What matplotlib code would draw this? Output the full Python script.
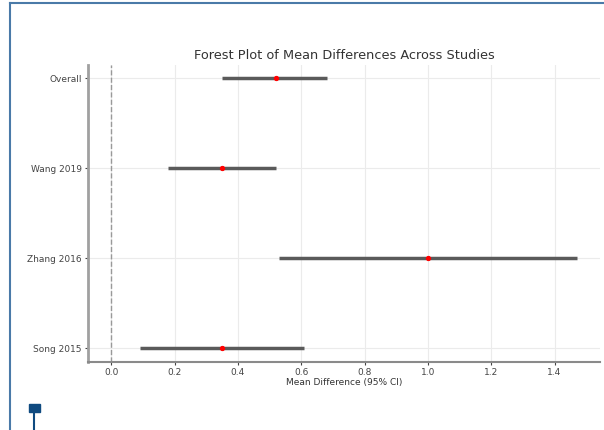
import numpy as np
import matplotlib
matplotlib.use("Agg")
from matplotlib import pyplot as plt
from matplotlib.patches import Rectangle
from matplotlib.lines import Line2D

#------------------------------------------------------------
# Study data (bottom to top)
studies = ['Song 2015', 'Zhang 2016', 'Wang 2019', 'Overall']
mean_diff = [0.35, 1.00, 0.35, 0.52]
ci_lower = [0.09, 0.53, 0.18, 0.35]
ci_upper = [0.61, 1.47, 0.52, 0.68]

#------------------------------------------------------------
fig = plt.figure(figsize=(6.04, 4.30), dpi=100)
ax = fig.add_axes([0.1457, 0.159, 0.8477, 0.691])

y = np.arange(len(studies))
md = np.array(mean_diff)
err = [md - np.array(ci_lower), np.array(ci_upper) - md]

ax.errorbar(md, y, xerr=err, fmt='o', color='red', ms=2.8,
            ecolor='#5a5a5a', elinewidth=2.5, capsize=0, zorder=3)
ax.axvline(0, color='#999999', ls='--', lw=1)

ax.set_yticks(y)
ax.set_yticklabels(studies)
ax.set_xticks(np.arange(0, 1.41, 0.2))
ax.set_xlabel('Mean Difference (95% CI)', fontsize=6.5, color='#333333', labelpad=1)
ax.set_title('Forest Plot of Mean Differences Across Studies',
             fontsize=9.3, color='#333333', pad=4)

ax.grid(True, color='#ebebeb', lw=0.8)
ax.set_axisbelow(True)
ax.tick_params(labelsize=6.5, colors='#444444', length=2.5, width=0.8, pad=2)
for side in ['top', 'right']:
    ax.spines[side].set_visible(False)
ax.spines['left'].set_color('#a0a0a0')
ax.spines['left'].set_linewidth(2)
ax.spines['bottom'].set_color('#8a8a8a')
ax.spines['bottom'].set_linewidth(1.5)

#------------------------------------------------------------
# page frame and marker around the picture
fig.add_artist(Line2D([10 / 604, 10 / 604], [0, 427 / 430], color='#4a7aa8', lw=1.5))
fig.add_artist(Line2D([10 / 604, 1], [427 / 430, 427 / 430], color='#4a7aa8', lw=1.5))
fig.add_artist(Rectangle((29 / 604, 18 / 430), 11 / 604, 8 / 430,
                         color='#0f4a80', transform=fig.transFigure))
fig.add_artist(Line2D([34 / 604, 34 / 604], [0, 18 / 430], color='#0f4a80', lw=1.5))

fig.savefig('out.png', dpi=100)
